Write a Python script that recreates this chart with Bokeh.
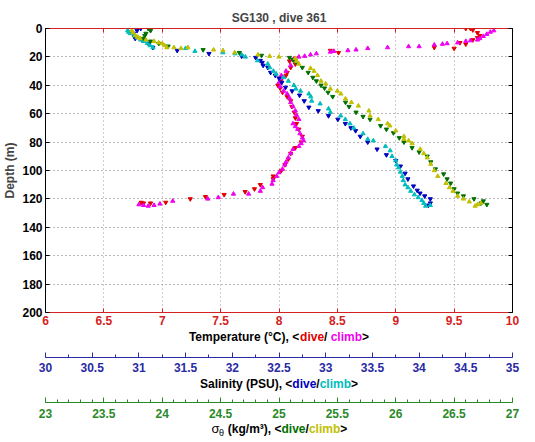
from bokeh.plotting import figure
from bokeh.layouts import column
from bokeh.models import Range1d, LinearAxis, FixedTicker, CustomJSTickFormatter
from bokeh.core.properties import value
from bokeh.embed import file_html
from bokeh.resources import INLINE

# ---------------- data ----------------
title_text = "SG130 , dive 361"

depth_ticks = [0, 20, 40, 60, 80, 100, 120, 140, 160, 180, 200]
temp_ticks = [6, 6.5, 7, 7.5, 8, 8.5, 9, 9.5, 10]
temp_labels = ["6", "6.5", "7", "7.5", "8", "8.5", "9", "9.5", "10"]
sal_ticks = [30, 30.5, 31, 31.5, 32, 32.5, 33, 33.5, 34, 34.5, 35]
sal_labels = ["30", "30.5", "31", "31.5", "32", "32.5", "33", "33.5", "34", "34.5", "35"]
sig_ticks = [23, 23.5, 24, 24.5, 25, 25.5, 26, 26.5, 27]
sig_labels = ["23", "23.5", "24", "24.5", "25", "25.5", "26", "26.5", "27"]

# Temperature, dive (red)
td_depth = [0, 0, 1, 3, 5, 6.5, 8, 10, 11, 13.4, 14, 15.5, 17, 21, 23, 25, 27.5, 31, 33, 36,
            40, 42, 45, 48, 51, 55, 59, 63, 67, 71, 76, 80, 84, 88, 92, 96, 100, 104, 106, 110,
            113, 115, 117, 118.5, 120, 122.5, 123, 123, 122.5]
td_temp = [9.6, 9.64, 9.66, 9.7, 9.72, 9.7, 9.66, 9.55, 9.6, 9.33, 9.5, 8.44, 8.51, 8.14, 8.09, 8.14, 8.1, 8.07, 8.06, 8.02,
           7.99, 8.01, 8.03, 8.07, 8.1, 8.11, 8.13, 8.14, 8.15, 8.17, 8.2, 8.19, 8.14, 8.1, 8.08, 8.05, 8.02, 7.95, 7.95, 7.84,
           7.79, 7.71, 7.53, 7.37, 7.24, 7.03, 6.9, 6.84, 6.82]

# Temperature, climb (magenta)
tc_depth = [1.5, 2.5, 4, 5.5, 7, 8, 8.5, 9, 10, 10.6, 11, 11.5, 12.7, 12.7, 13.4, 14, 15, 15.5, 16, 16.5,
            17.7, 18.5, 19.5, 20, 22, 26, 30, 33, 35, 38, 41, 44, 46, 49, 52, 55, 58, 61, 64, 67,
            69, 71, 74, 77, 79, 81, 83, 85, 88, 91, 94, 96, 99, 101.5, 104, 107, 109.5, 112, 114.5, 116.5,
            116.5, 119, 120, 121.5, 123.5, 124.5, 125, 124.5, 124]
tc_temp = [9.84, 9.81, 9.78, 9.75, 9.72, 9.7, 9.64, 9.6, 9.53, 9.44, 9.4, 9.33, 9.2, 9.11, 8.93, 8.76, 8.66, 8.59, 8.47, 8.44,
           8.32, 8.27, 8.22, 8.17, 8.12, 8.1, 8.06, 8.02, 8.01, 8.0, 8.01, 8.04, 8.07, 8.09, 8.1, 8.12, 8.14, 8.15, 8.17, 8.12,
           8.14, 8.16, 8.18, 8.2, 8.21, 8.19, 8.17, 8.12, 8.1, 8.08, 8.06, 8.05, 8.03, 8.0, 7.98, 7.95, 7.94, 7.86, 7.84, 7.74,
           7.61, 7.48, 7.39, 7.09, 6.98, 6.93, 6.88, 6.84, 6.8]

# Salinity, dive (blue)
sd_depth = [0, 1.5, 3.5, 5.5, 7, 8.5, 10.5, 13.4, 15.5, 17.7, 19.5, 20.5, 22.6, 24, 26, 27.5, 31, 33, 35, 38,
            41.5, 44, 47, 51, 55.5, 58, 61.5, 64, 67, 70, 72, 76, 80, 85, 89, 93, 97, 102, 106, 111,
            114, 116, 118, 120, 123, 124.5]
sd_sal = [31.02, 30.98, 30.94, 30.95, 30.96, 31.04, 31.1, 31.15, 31.41, 31.75, 32.1, 32.25, 32.3, 32.32, 32.33, 32.38, 32.41, 32.46, 32.5, 32.53,
          32.57, 32.64, 32.72, 32.77, 32.82, 32.92, 33.03, 33.13, 33.21, 33.27, 33.32, 33.37, 33.45, 33.55, 33.65, 33.75, 33.8, 33.85, 33.88, 33.94,
          33.98, 34.01, 34.06, 34.12, 34.12, 34.1]

# Salinity, climb (cyan)
sc_depth = [1.4, 2.5, 3.5, 5, 6.4, 8, 9, 10.5, 12, 13.4, 14, 16, 17, 17.7, 18.5, 20, 22.6, 25, 27.5, 30,
            32, 34.5, 37, 40, 42.5, 44, 46, 48, 51, 53, 56.5, 59, 61.5, 64, 67, 70, 74, 78, 79, 83,
            86, 90, 93, 96, 98, 101, 104, 107, 110, 112, 114.5, 117, 119, 121, 123, 125, 124.5]
sc_sal = [30.88, 30.89, 30.91, 30.95, 30.98, 31.02, 31.05, 31.09, 31.12, 31.15, 31.5, 31.6, 31.9, 32.03, 32.1, 32.14, 32.27, 32.38, 32.4, 32.44,
          32.47, 32.55, 32.6, 32.66, 32.68, 32.73, 32.82, 32.84, 32.85, 32.94, 33.03, 33.05, 33.16, 33.21, 33.26, 33.3, 33.4, 33.45, 33.51, 33.64,
          33.69, 33.71, 33.75, 33.76, 33.78, 33.8, 33.82, 33.83, 33.85, 33.88, 33.91, 33.95, 33.99, 34.03, 34.05, 34.07, 34.12]

# Sigma-theta, dive (green)
gd_depth = [0, 1.5, 3.5, 5, 7, 9, 10.6, 12.5, 15, 17, 19, 20.5, 22, 24, 27.5, 31, 34.5, 37, 40, 42,
            45, 48, 52, 55, 59, 62, 64, 68.5, 71, 73.5, 77, 80, 84, 87, 90, 94, 99, 102.5, 106, 109,
            113, 116, 118, 120, 121.5, 123, 124]
gd_sig = [23.88, 23.9, 23.86, 23.85, 23.84, 23.9, 23.97, 24.05, 24.35, 24.66, 24.85, 25.09, 25.12, 25.15, 25.2, 25.25, 25.29, 25.32, 25.36, 25.39,
          25.42, 25.46, 25.57, 25.6, 25.66, 25.72, 25.78, 25.87, 25.92, 25.98, 26.03, 26.07, 26.14, 26.2, 26.27, 26.3, 26.34, 26.41, 26.44, 26.47,
          26.5, 26.53, 26.58, 26.67, 26.75, 26.73, 26.78]

# Sigma-theta, climb (olive yellow)
yc_depth = [1.4, 3, 5, 6, 7, 8, 9, 10, 10.6, 12, 13.4, 13.4, 14, 13.4, 15, 15.5, 17, 18.5, 19.5, 20,
            21, 23, 25, 28, 30, 33, 37, 39, 42.5, 44, 46, 49.5, 52, 54.5, 58, 61.5, 64, 67, 68.5, 72,
            76, 78, 79, 81, 85, 88, 91, 95.5, 100, 104, 109, 112, 114.5, 118, 120, 122, 123, 124, 125]
yc_sig = [23.74, 23.75, 23.77, 23.79, 23.81, 23.86, 23.93, 23.97, 24.0, 24.02, 24.04, 24.1, 24.16, 24.22, 24.44, 24.52, 24.62, 24.82, 24.92, 25.0,
          25.14, 25.15, 25.17, 25.27, 25.3, 25.33, 25.36, 25.4, 25.44, 25.5, 25.53, 25.57, 25.62, 25.68, 25.77, 25.78, 25.85, 25.93, 25.95, 26.0,
          26.07, 26.07, 26.11, 26.14, 26.21, 26.24, 26.27, 26.3, 26.33, 26.36, 26.43, 26.46, 26.49, 26.53, 26.58, 26.63, 26.73, 26.7, 26.68]

# ---------------- styling ----------------
FONT = "Liberation Sans"
C_TEMP_AX = "#d42222"
C_SAL_AX = "#2a2aa4"
C_SIG_AX = "#2a8a2a"
C_RED = "#e00000"
C_MAG = "#f000f0"
C_BLUE = "#0000c0"
C_CYAN = "#00bcbc"
C_GREEN = "#007000"
C_YEL = "#c0c000"

W = 535
BL, BR = 45, 23          # left / right borders -> frame 467 px wide


def style_axis(ax, color, standoff, tick_in=4, minor_in=0):
    ax.axis_line_color = color
    ax.axis_line_width = 1
    ax.major_tick_line_color = color
    ax.minor_tick_line_color = color
    ax.major_tick_in = tick_in
    ax.major_tick_out = 0
    ax.minor_tick_in = minor_in
    ax.minor_tick_out = 0
    ax.major_label_text_color = color
    ax.major_label_text_font = FONT
    ax.major_label_text_font_style = "bold"
    ax.major_label_text_font_size = "12px"
    ax.major_label_standoff = standoff


blank = CustomJSTickFormatter(code="return ''")


def hide_labels(ax):
    ax.formatter = blank
    ax.major_label_text_font_size = "0px"
    ax.major_label_standoff = 0


# ================= main plot =================
p = figure(width=W, height=329, output_backend="svg", toolbar_location=None,
           x_range=Range1d(6, 10), y_range=Range1d(200, 0),
           min_border_left=BL, min_border_right=BR, min_border_top=28, min_border_bottom=17)
p.extra_x_ranges = {"sal": Range1d(30, 35), "sig": Range1d(23, 27)}
p.outline_line_color = "black"
p.title.text = title_text
p.title.align = "center"
p.title.text_font = FONT
p.title.text_font_style = "bold"
p.title.text_font_size = "12px"
p.title.standoff = 8

p.xgrid.ticker = FixedTicker(ticks=temp_ticks)
p.ygrid.ticker = FixedTicker(ticks=depth_ticks)
p.xgrid.grid_line_color = "#b89090"
p.ygrid.grid_line_color = "#707070"
for g in (p.xgrid, p.ygrid):
    g.grid_line_dash = "1 3"
    g.grid_line_width = 1

xa = p.xaxis[0]
xa.ticker = FixedTicker(ticks=temp_ticks)
xa.major_label_overrides = dict(zip(temp_ticks, temp_labels))
style_axis(xa, C_TEMP_AX, 3)

ya = p.yaxis[0]
ya.ticker = FixedTicker(ticks=depth_ticks)
style_axis(ya, "black", 3)
ya.axis_label = "Depth (m)"
ya.axis_label_text_font = FONT
ya.axis_label_text_font_style = "bold"
ya.axis_label_text_font_size = "12px"
ya.axis_label_standoff = 2

top = LinearAxis(ticker=FixedTicker(ticks=temp_ticks))
style_axis(top, C_TEMP_AX, 0)
hide_labels(top)
p.add_layout(top, "above")

right = LinearAxis(ticker=FixedTicker(ticks=depth_ticks))
style_axis(right, "black", 0)
hide_labels(right)
p.add_layout(right, "right")

MS = 4.2
p.scatter(td_temp, td_depth, marker="inverted_triangle", size=MS, color=C_RED)
p.scatter(tc_temp, tc_depth, marker="triangle", size=MS, color=C_MAG)
p.scatter(sd_sal, sd_depth, marker="inverted_triangle", size=MS, color=C_BLUE, x_range_name="sal")
p.scatter(sc_sal, sc_depth, marker="triangle", size=MS, color=C_CYAN, x_range_name="sal")
p.scatter(gd_sig, gd_depth, marker="inverted_triangle", size=MS, color=C_GREEN, x_range_name="sig")
p.scatter(yc_sig, yc_depth, marker="triangle", size=MS, color=C_YEL, x_range_name="sig")


# ================= strips below: axis titles and extra axes =================
def strip(height, frame_h):
    f = figure(width=W, height=height, output_backend="svg", toolbar_location=None,
               x_range=Range1d(0, 467), y_range=Range1d(0, frame_h),
               x_axis_location=None, y_axis_location=None,
               min_border_left=BL, min_border_right=BR, min_border_top=0,
               min_border_bottom=height - frame_h)
    f.outline_line_color = None
    f.xgrid.visible = False
    f.ygrid.visible = False
    return f


def piece(f, x, y, text, color="black", size="12px", style="bold"):
    f.text(x=[x], y=[y], text=[text], text_font=value(FONT), text_font_style=style,
           text_font_size=size, text_color=color, text_baseline="middle", text_align="left")


# strip 1: temperature title + salinity axis
s1 = strip(47, 28)
yT = 21
piece(s1, 143.4, yT, "Temperature (°C), <")
piece(s1, 254.6, yT, "dive", C_RED)
piece(s1, 278.6, yT, "/")
piece(s1, 285.2, yT, "climb", C_MAG)
piece(s1, 316.6, yT, ">")
s1.extra_x_ranges = {"sal": Range1d(30, 35)}
sal_minor = [30 + 0.25 * i for i in range(21)]
sal_ax = LinearAxis(x_range_name="sal", ticker=FixedTicker(ticks=sal_ticks, minor_ticks=sal_minor))
sal_ax.major_label_overrides = dict(zip(sal_ticks, sal_labels))
style_axis(sal_ax, C_SAL_AX, 5, tick_in=5, minor_in=3)
s1.add_layout(sal_ax, "below")

# strip 2: salinity title + sigma axis
s2 = strip(46, 26)
yS = 19
piece(s2, 154.5, yS, "Salinity (PSU), <")
piece(s2, 246.8, yS, "dive", C_BLUE)
piece(s2, 270.8, yS, "/")
piece(s2, 274.2, yS, "climb", C_CYAN)
piece(s2, 305.5, yS, ">")
s2.extra_x_ranges = {"sig": Range1d(23, 27)}
sig_minor = [round(23 + 0.1 * i, 1) for i in range(41)]
sig_ax = LinearAxis(x_range_name="sig", ticker=FixedTicker(ticks=sig_ticks, minor_ticks=sig_minor))
sig_ax.major_label_overrides = dict(zip(sig_ticks, sig_labels))
style_axis(sig_ax, C_SIG_AX, 6, tick_in=5, minor_in=3)
s2.add_layout(sig_ax, "below")

# strip 3: sigma-theta title
s3 = strip(20, 20)
yG = 14
piece(s3, 165.9, yG, "σ", size="13px", style="normal")
piece(s3, 173.6, yG - 4, "θ", size="9px", style="normal")
piece(s3, 182.3, yG, "(kg/m³), <")
piece(s3, 236.0, yG, "dive", C_GREEN)
piece(s3, 260.0, yG, "/")
piece(s3, 263.4, yG, "climb", C_YEL)
piece(s3, 294.7, yG, ">")

layout = column(p, s1, s2, s3, spacing=0)
open("out.html", "w").write(file_html(layout, INLINE))
